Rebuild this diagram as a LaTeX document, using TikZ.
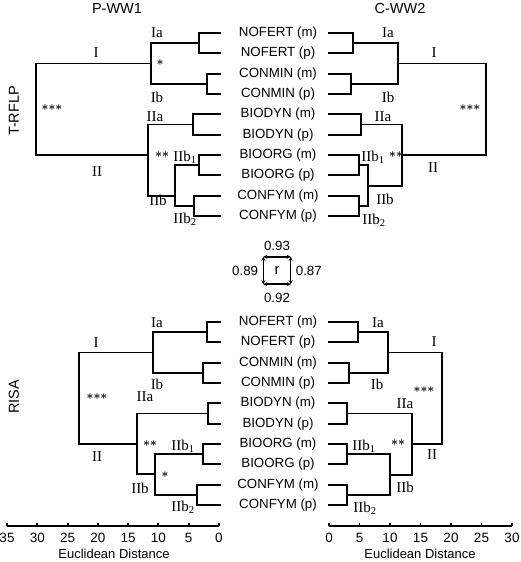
\documentclass[tikz,border=0pt]{standalone}
\usepackage{fontspec}
\setmainfont{Liberation Serif}
\setsansfont{Liberation Sans}
\usetikzlibrary{arrows.meta, positioning}

% one step of a dendrogram: (xa,ya) across to the join at xj, down to yb, back to xb
\newcommand{\dlink}[5]{\draw[tree] (#1,#2) -| (#3,#5) -- (#4,#5);}

\begin{document}
\begin{tikzpicture}[
  x=1pt, y=-1pt,
  tree/.style={line width=1.9pt},
  leaf/.style={font=\sffamily\fontsize{13.3}{15}\selectfont, inner sep=1pt},
  clus/.style={font=\rmfamily\fontsize{15}{17}\selectfont, inner sep=1pt},
  sig/.style={font=\fontsize{12}{14}\selectfont\boldmath, inner sep=0pt},
  title/.style={font=\sffamily\fontsize{14.5}{16}\selectfont, inner sep=1pt},
  tick/.style={font=\sffamily\fontsize{13.5}{15}\selectfont, inner sep=1pt},
  corr/.style={line width=1.5pt, {Stealth[length=4pt,width=4pt]}-{Stealth[length=4pt,width=4pt]}}
]
  \useasboundingbox (0,0) rectangle (520,562);

  % Titles
  \node[title] (pww) at (117,9) {P-WW1};
  \node[title] (cww) at (400,9) {C-WW2};
  \node[title, rotate=90] (trflp) at (14,111) {T-RFLP};
  \node[title, rotate=90] (risa) at (14,397) {RISA};

  % Treatments (both panels)
  \foreach \nm [count=\i from 0] in {{NOFERT (m)}, {NOFERT (p)}, {CONMIN (m)}, {CONMIN (p)},
      {BIODYN (m)}, {BIODYN (p)}, {BIOORG (m)}, {BIOORG (p)}, {CONFYM (m)}, {CONFYM (p)}} {
    \node[leaf] (t\i) at (278,33+20.33*\i) {\nm};
    \node[leaf] (r\i) at (278,322+20.33*\i) {\nm};
  }

  % T-RFLP, P-WW1
  \dlink{221}{33}{199}{221}{53.3}
  \dlink{221}{73.7}{207}{221}{94}
  \dlink{221}{114.3}{193}{221}{134.7}
  \dlink{221}{155}{199}{221}{175.3}
  \dlink{221}{195.7}{194}{221}{216}
  \dlink{199}{43.2}{151}{207}{83.8}
  \dlink{199}{165.2}{175}{194}{205.8}
  \dlink{193}{124.5}{148}{175}{196}
  \dlink{151}{63.5}{36}{148}{155}
  \node[clus] (tlIa) at (157,33) {Ia};
  \node[clus] (tlI) at (96,53) {I};
  \node[clus] (tlIb) at (157,97) {Ib};
  \node[sig] (tlsI) at (52,108) {${\ast}{\ast}{\ast}$};
  \node[sig] (tlsa) at (160,63) {${\ast}$};
  \node[clus] (tlIIa) at (155,117) {IIa};
  \node[sig] (tlsII) at (162,155) {${\ast}{\ast}$};
  \node[clus] (tlIIbi) at (185,157) {IIb\textsubscript{1}};
  \node[clus] (tlII) at (97,172) {II};
  \node[clus] (tlIIb) at (158,200) {IIb};
  \node[clus] (tlIIbii) at (185,219) {IIb\textsubscript{2}};

  % T-RFLP, C-WW2
  \dlink{328}{33}{353}{328}{53.3}
  \dlink{328}{73.7}{351}{328}{94}
  \dlink{328}{114.3}{361}{328}{134.7}
  \dlink{328}{155}{359}{328}{175.3}
  \dlink{328}{195.7}{359}{328}{216}
  \dlink{353}{43.2}{398}{351}{83.8}
  \dlink{359}{165.2}{368}{359}{205.8}
  \dlink{361}{124.5}{402}{368}{186}
  \dlink{398}{63.5}{486}{402}{155}
  \node[clus] (trIa) at (388,33) {Ia};
  \node[clus] (trI) at (434,53) {I};
  \node[clus] (trIb) at (388,97) {Ib};
  \node[sig] (trsI) at (470,108) {${\ast}{\ast}{\ast}$};
  \node[clus] (trIIa) at (383,117) {IIa};
  \node[clus] (trIIbi) at (373,157) {IIb\textsubscript{1}};
  \node[sig] (trsII) at (396,155) {${\ast}{\ast}$};
  \node[clus] (trII) at (433,168) {II};
  \node[clus] (trIIb) at (385,199) {IIb};
  \node[clus] (trIIbii) at (374,220) {IIb\textsubscript{2}};

  % RISA, P-WW1
  \dlink{221}{322}{207}{221}{342.3}
  \dlink{221}{362.7}{203}{221}{383}
  \dlink{221}{403.3}{208}{221}{423.7}
  \dlink{221}{444}{203}{221}{464.3}
  \dlink{221}{484.7}{197}{221}{505}
  \dlink{207}{332.2}{153}{203}{372.8}
  \dlink{203}{454.2}{155}{197}{494.8}
  \dlink{208}{413.5}{137}{155}{474}
  \dlink{153}{352.5}{79}{137}{444}
  \node[clus] (blIa) at (157,323) {Ia};
  \node[clus] (blI) at (96,343) {I};
  \node[clus] (blIb) at (157,384) {Ib};
  \node[sig] (blsI) at (97,397) {${\ast}{\ast}{\ast}$};
  \node[clus] (blIIa) at (145,397) {IIa};
  \node[sig] (blsII) at (150,444) {${\ast}{\ast}$};
  \node[clus] (blIIbi) at (183,446) {IIb\textsubscript{1}};
  \node[clus] (blII) at (97,457) {II};
  \node[sig] (blsb) at (165,475) {${\ast}$};
  \node[clus] (blIIb) at (140,488) {IIb};
  \node[clus] (blIIbii) at (183,507) {IIb\textsubscript{2}};

  % RISA, C-WW2
  \dlink{328}{322}{358}{328}{342.3}
  \dlink{328}{362.7}{349}{328}{383}
  \dlink{328}{403.3}{347}{328}{423.7}
  \dlink{328}{444}{347}{328}{464.3}
  \dlink{328}{484.7}{347}{328}{505}
  \dlink{358}{332.2}{388}{349}{372.8}
  \dlink{347}{454.2}{390}{347}{494.8}
  \dlink{347}{413.5}{412}{390}{475}
  \dlink{388}{352.5}{442}{412}{444}
  \node[clus] (brIa) at (378,323) {Ia};
  \node[clus] (brI) at (434,342) {I};
  \node[clus] (brIb) at (377,384) {Ib};
  \node[sig] (brsI) at (424,390) {${\ast}{\ast}{\ast}$};
  \node[clus] (brIIa) at (405,404) {IIa};
  \node[clus] (brIIbi) at (364,446) {IIb\textsubscript{1}};
  \node[sig] (brsII) at (398,443) {${\ast}{\ast}$};
  \node[clus] (brII) at (432,455) {II};
  \node[clus] (brIIb) at (405,487) {IIb};
  \node[clus] (brIIbii) at (365,508) {IIb\textsubscript{2}};

  % Correlation square
  \node[leaf, minimum size=27pt, inner sep=0pt, font=\sffamily\fontsize{15}{17}\selectfont] (rbox) at (277,270.5) {r};
  \draw[corr] (rbox.north west) -- (rbox.north east);
  \draw[corr] (rbox.north east) -- (rbox.south east);
  \draw[corr] (rbox.south east) -- (rbox.south west);
  \draw[corr] (rbox.south west) -- (rbox.north west);
  \node[leaf, above=5pt of rbox] (rtop) {0.93};
  \node[leaf, below=8pt of rbox] (rbot) {0.92};
  \node[leaf, left=4pt of rbox] (rlft) {0.89};
  \node[leaf, right=4pt of rbox] (rrgt) {0.87};

  % Distance axes
  \draw[tree] (7,526) -- (219,526);
  \foreach \d in {0,5,...,35} {
    \draw[tree] (219-6.057*\d,526) -- ++(0,-3.5);
    \node[tick] at (219-6.057*\d,538) {\d};
  }
  \node[tick, font=\sffamily\fontsize{13}{15}\selectfont] (dleft) at (114,554) {Euclidean Distance};
  \draw[tree] (329,526) -- (512,526);
  \foreach \d in {0,5,...,30} {
    \draw[tree] (329+6.1*\d,526) -- ++(0,-3.5);
    \node[tick] at (329+6.1*\d,538) {\d};
  }
  \node[tick, font=\sffamily\fontsize{13}{15}\selectfont] (dright) at (420,554) {Euclidean Distance};

\end{tikzpicture}
\end{document}
